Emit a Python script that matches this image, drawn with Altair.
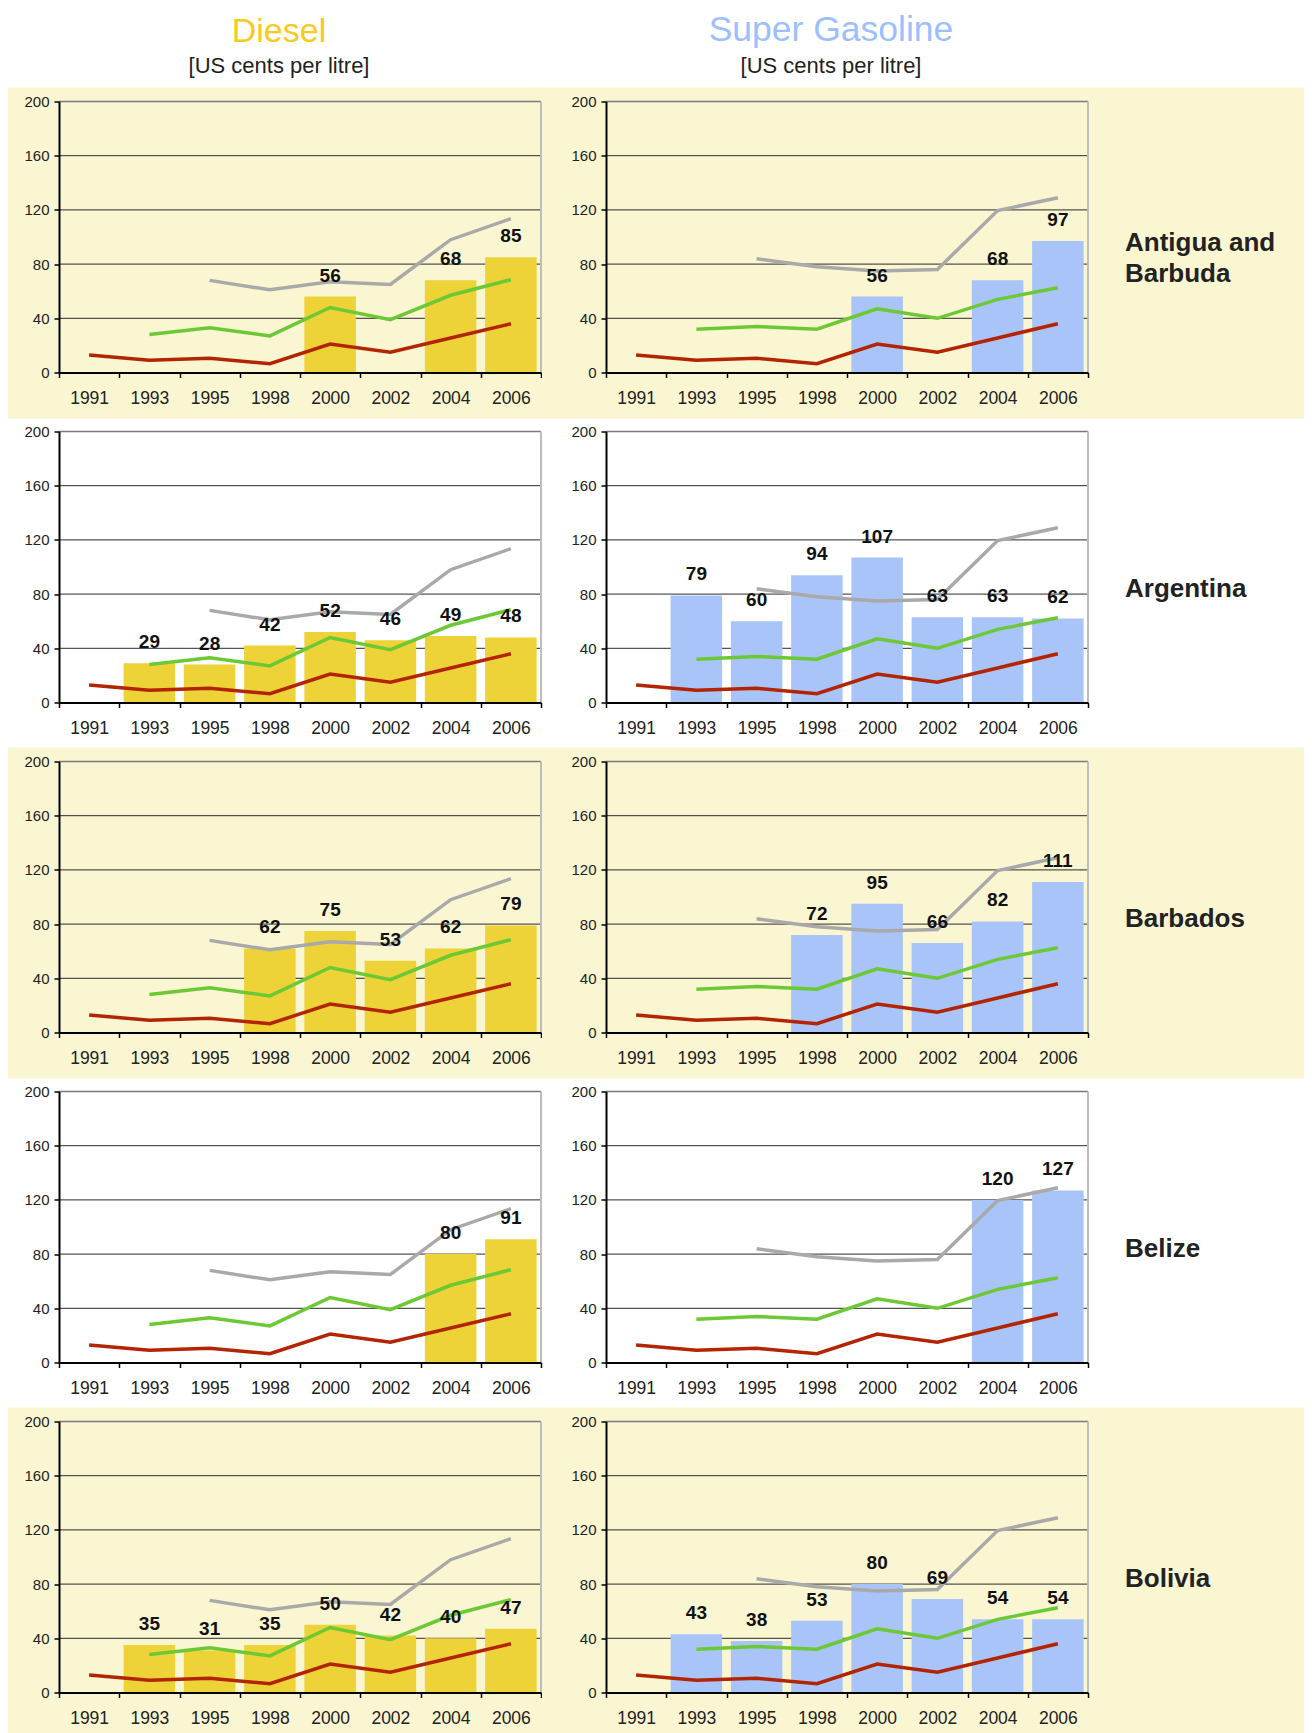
import altair as alt
import pandas as pd

FONT = "Liberation Sans"

years = ["1991", "1993", "1995", "1998", "2000", "2002", "2004", "2006"]
countries = ["Antigua and Barbuda", "Argentina", "Barbados", "Belize", "Bolivia"]
country_labels = ["Antigua and\nBarbuda", "Argentina", "Barbados", "Belize", "Bolivia"]

# Bar values per country (None = no observation)
diesel_antigua = [None, None, None, None, 56, None, 68, 85]
diesel_argentina = [None, 29, 28, 42, 52, 46, 49, 48]
diesel_barbados = [None, None, None, 62, 75, 53, 62, 79]
diesel_belize = [None, None, None, None, None, None, 80, 91]
diesel_bolivia = [None, 35, 31, 35, 50, 42, 40, 47]

gasoline_antigua = [None, None, None, None, 56, None, 68, 97]
gasoline_argentina = [None, 79, 60, 94, 107, 63, 63, 62]
gasoline_barbados = [None, None, None, 72, 95, 66, 82, 111]
gasoline_belize = [None, None, None, None, None, None, 120, 127]
gasoline_bolivia = [None, 43, 38, 53, 80, 69, 54, 54]

diesel_bars = [diesel_antigua, diesel_argentina, diesel_barbados, diesel_belize, diesel_bolivia]
gasoline_bars = [gasoline_antigua, gasoline_argentina, gasoline_barbados, gasoline_belize, gasoline_bolivia]

# Reference lines (same in every panel of a column)
diesel_ref_high = [None, None, 68, 61, 67, 65, 98, 113.5]
diesel_ref_mid = [None, 28, 33, 27, 48, 39, 57, 68.5]
gasoline_ref_high = [None, None, 84, 78, 75, 76, 119.5, 129]
gasoline_ref_mid = [None, 32, 34, 32, 47, 40, 54, 62.5]
ref_low = [13, 9, 10.5, 6.5, 21, 15, 25.5, 36]

series_names = ["high", "mid", "low"]
series_colors = ["#A9A9A9", "#6CC935", "#B32400"]

grid_values = [40, 80, 120, 160]
top_value = [200]
y_ticks = [0, 40, 80, 120, 160, 200]

W, H = 482, 271
BAND = "#FAF6D2"
DIESEL = "#EDD337"
GAS = "#A9C4F9"

y_scale = alt.Scale(domain=[0, 200], nice=False, zero=True)
x_scale = alt.Scale(type="band", domain=years, paddingInner=0, paddingOuter=0)

y_axis = alt.Axis(values=y_ticks, title=None, grid=False, domainColor="black", domainWidth=2,
                  tickColor="black", tickSize=5, tickWidth=1.5, labelFontSize=15,
                  labelColor="#222222", labelPadding=5, labelFont=FONT, zindex=1)
x_axis = alt.Axis(title=None, labelAngle=0, tickBand="extent", grid=False, domainColor="black",
                  domainWidth=2, tickColor="black", tickSize=5, tickWidth=1.5, labelFontSize=17.5,
                  labelColor="#222222", labelPadding=12, labelFont=FONT, zindex=1)


def X(**kw):
    return alt.X("year:N", scale=x_scale, axis=x_axis, sort=years, **kw)


def Y():
    return alt.Y("value:Q", scale=y_scale, axis=y_axis)


def panel(bar_vals, high, mid, bar_color, band_span, label=None, title=None):
    layers = []
    if band_span is not None:
        band = alt.Chart(pd.DataFrame({"k": [0]})).mark_rect(color=BAND).encode(
            x=alt.value(band_span[0]), x2=alt.value(band_span[1]), y=alt.value(-14), y2=alt.value(317))
        layers.append(band)
    grid = alt.Chart(pd.DataFrame({"value": grid_values})).mark_rule(
        color="#2a2a2a", strokeWidth=1).encode(y=Y())
    top = alt.Chart(pd.DataFrame({"value": top_value})).mark_rule(
        color="#7a7a7a", strokeWidth=1.5).encode(y=Y())
    right = alt.Chart(pd.DataFrame({"year": [years[-1]], "value": [0], "value2": [200]})).mark_rule(
        color="#BDBDBD", strokeWidth=2).encode(x=X(bandPosition=1), y=Y(), y2="value2:Q")
    layers += [grid, top, right]

    bdf = pd.DataFrame({"year": years, "value": bar_vals}).dropna()
    bars = alt.Chart(bdf).mark_bar(color=bar_color, width=alt.RelativeBandSize(0.855)).encode(x=X(), y=Y())
    rows = []
    for name, vals in zip(series_names, [high, mid, ref_low]):
        for yr, v in zip(years, vals):
            if v is not None:
                rows.append({"year": yr, "value": v, "series": name})
    ldf = pd.DataFrame(rows)
    lines = alt.Chart(ldf).mark_line(strokeWidth=3.5).encode(
        x=X(), y=Y(),
        color=alt.Color("series:N", scale=alt.Scale(domain=series_names, range=series_colors), legend=None),
        detail="series:N")
    texts = alt.Chart(bdf).mark_text(fontSize=19, fontWeight="bold", font=FONT, baseline="alphabetic",
                                     dy=-15, color="#111111").encode(
        x=X(), y=Y(), text=alt.Text("value:Q", format="d"))
    layers += [bars, lines, texts]
    if label is not None:
        n_lines = label.count("\n") + 1
        lab = alt.Chart(pd.DataFrame({"label": [label]})).mark_text(
            align="left", baseline="middle", fontSize=26, fontWeight="bold", font=FONT,
            lineBreak="\n", lineHeight=31, color="#222222").encode(
            text="label:N", x=alt.value(W + 37), y=alt.value(H / 2 + 21.5 - (n_lines - 1) * 15.5))
        layers.append(lab)
    ch = alt.layer(*layers).properties(width=W, height=H)
    if title is not None:
        ch = ch.properties(title=title)
    return ch


def make_title(text, color, dx, size):
    return alt.TitleParams(text=text, subtitle="[US cents per litre]", color=color, fontSize=size,
                           fontWeight="normal", font=FONT, subtitleFont=FONT, subtitleFontSize=22,
                           subtitleColor="#222222", anchor="middle", frame="group", dx=dx,
                           offset=11, subtitlePadding=7)


cells = []
for i, c in enumerate(countries):
    yellow = (i % 2 == 0)
    t1 = make_title("Diesel", "#F8CA1C", -21, 34) if i == 0 else None
    t2 = make_title("Super Gasoline", "#9DBFFF", -16, 35.5) if i == 0 else None
    span1 = (-51, W + 2) if yellow else None
    span2 = (-64, 1304 - 606) if yellow else None
    cells.append(panel(diesel_bars[i], diesel_ref_high, diesel_ref_mid, DIESEL, span1, None, t1))
    cells.append(panel(gasoline_bars[i], gasoline_ref_high, gasoline_ref_mid, GAS, span2,
                       country_labels[i], t2))

chart = alt.concat(*cells, columns=2, spacing={"row": 59, "column": 65}, bounds="flush").properties(
    padding={"left": 0, "top": 4.5, "right": 0, "bottom": 0}
).configure_view(strokeWidth=0)

chart.save("out.html", embed_options={"renderer": "svg", "actions": False})
